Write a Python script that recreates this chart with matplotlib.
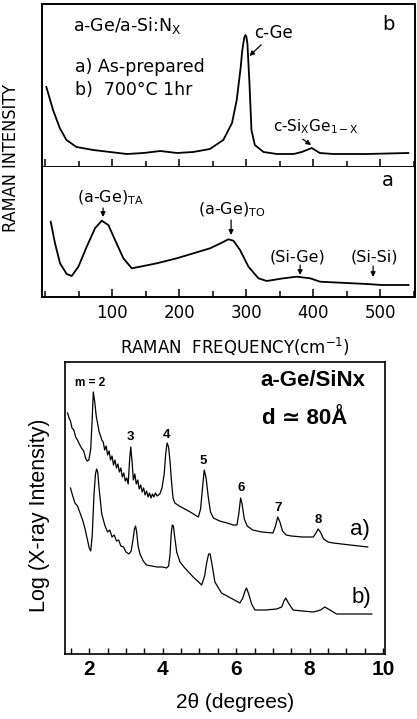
import numpy as np
import matplotlib.pyplot as plt
from matplotlib.ticker import MultipleLocator

# Raman, curve b (700C 1hr): frequency (cm-1), intensity (arb.)
raman_b_x = [2, 12, 22, 32, 47, 72, 97, 122, 147, 172, 197, 221, 246, 266, 279, 286,
             292, 294, 296, 297.5, 299, 300.5, 302, 305, 308, 313, 326, 346, 371, 383,
             398, 410, 430, 480, 542]
raman_b_y = [80, 57, 39, 27, 20, 17, 15, 13, 14, 16, 14, 15, 18, 27, 44, 67,
             100, 115, 124, 130, 132, 130, 123, 84, 37, 22, 15, 13, 13, 15,
             19, 14, 13, 13, 14]

# Raman, curve a (as-prepared)
raman_a_x = [8.5, 14.9, 22.4, 32.3, 39.8, 49.8, 62.2, 74.6, 84.6, 94.5, 104.5, 116.9,
             129.4, 141.8, 166.7, 196.5, 221.4, 246.3, 263.7, 273.6, 281.1, 291, 303.5,
             318.4, 330.8, 355.7, 375.6, 395.5, 410.4, 440.3, 480.1, 502.5, 542.3]
raman_a_y = [75.3, 53.7, 33.7, 23, 21, 30.3, 50.3, 68.7, 76.3, 72, 57, 38.7,
             28.7, 30.3, 33.7, 38.7, 43.7, 48.7, 54.3, 57.7, 56.3, 47, 30.3,
             18.7, 16, 18.7, 20.3, 18.7, 15.3, 14.3, 13, 12, 12]

# X-ray, curve a)
xray_a_x = [1.41, 1.45, 1.49, 1.53, 1.58, 1.63, 1.68, 1.73, 1.79, 1.85, 1.90, 1.94, 1.99,
            2.04, 2.08, 2.11, 2.15, 2.19, 2.23, 2.27, 2.31, 2.34, 2.38, 2.42, 2.46, 2.50,
            2.54, 2.58, 2.62, 2.66, 2.70, 2.74, 2.78, 2.82, 2.86, 2.90, 2.94, 2.98, 3.02,
            3.06, 3.10, 3.13, 3.17, 3.20, 3.24, 3.28, 3.32, 3.36, 3.40, 3.44, 3.48, 3.52,
            3.56, 3.60, 3.64, 3.68, 3.72, 3.76, 3.80, 3.85, 3.92, 3.98, 4.04, 4.08, 4.12,
            4.16, 4.20, 4.24, 4.28, 4.33, 4.45, 4.60, 4.75, 4.88, 4.97, 5.03, 5.08, 5.13,
            5.18, 5.24, 5.30, 5.38, 5.55, 5.75, 5.92, 6.02, 6.07, 6.12, 6.16, 6.22, 6.30,
            6.45, 6.70, 7.00, 7.07, 7.13, 7.19, 7.26, 7.36, 7.50, 7.80, 8.10, 8.17, 8.23,
            8.29, 8.38, 8.50, 8.64, 9.10, 9.58]
xray_a_y = [241, 236, 233, 226, 224, 217, 214, 210, 206, 203, 196, 193, 194,
            205, 235, 262, 252, 238, 230, 222, 218, 214, 212, 204, 208, 199,
            203, 194, 198, 189, 194, 186, 190, 182, 186, 177, 181, 173, 176,
            170, 195, 207, 190, 174, 180, 170, 174, 165, 169, 162, 166, 159,
            163, 157, 161, 156, 160, 157, 161, 158, 160, 166, 180, 200, 211,
            207, 192, 172, 156, 151, 148, 145, 142, 139, 137, 145, 165, 184,
            176, 157, 142, 136, 133, 131, 129, 129, 140, 156, 150, 135, 128,
            124, 122, 121, 128, 137, 132, 123, 119, 118, 117, 117, 121, 125,
            122, 115, 112, 111, 109, 107]

# X-ray, curve b)
xray_b_x = [1.49, 1.55, 1.61, 1.68, 1.75, 1.82, 1.88, 1.94, 2.00, 2.04, 2.08, 2.13, 2.17,
            2.20, 2.23, 2.27, 2.34, 2.43, 2.50, 2.56, 2.62, 2.68, 2.74, 2.80, 2.86, 2.93,
            3.00, 3.08, 3.14, 3.19, 3.23, 3.26, 3.29, 3.33, 3.38, 3.47, 3.56, 3.70, 3.85,
            4.00, 4.10, 4.16, 4.20, 4.23, 4.26, 4.29, 4.33, 4.38, 4.47, 4.60, 4.83, 5.06,
            5.14, 5.20, 5.25, 5.29, 5.34, 5.42, 5.60, 5.85, 6.10, 6.18, 6.24, 6.28, 6.34,
            6.42, 6.51, 6.80, 7.10, 7.24, 7.30, 7.35, 7.42, 7.55, 7.80, 8.10, 8.30, 8.41,
            8.55, 8.73, 9.20, 9.69]
xray_b_y = [166, 158, 151, 148, 141, 134, 126, 116, 106, 103, 118, 160, 180,
            185, 182, 165, 140, 128, 122, 124, 117, 119, 113, 114, 108, 107,
            102, 100, 103, 114, 125, 128, 122, 108, 100, 93, 89, 88, 87,
            87, 86, 88, 100, 120, 129, 128, 116, 102, 92, 86, 77, 69,
            78, 92, 100, 100, 90, 72, 61, 56, 51, 56, 63, 66, 60,
            50, 44, 44, 45, 47, 53, 56, 51, 44, 43, 42, 44, 47,
            44, 40, 40, 40]

raman_ticks = [100, 200, 300, 400, 500]
xray_ticks = [2, 4, 6, 8, 10]
peak_orders = ["3", "4", "5", "6", "7", "8"]
peak_pos = [(3.11, 217), (4.11, 219), (5.09, 193), (6.13, 166), (7.13, 146), (8.22, 134)]

W, H = 417, 719
fig = plt.figure(figsize=(W / 100, H / 100), dpi=100)
plt.rcParams['font.family'] = ['DejaVu Sans']

def box(x0, y0, x1, y1):
    # pixel box -> figure fraction
    return [x0 / W, 1 - y1 / H, (x1 - x0) / W, (y1 - y0) / H]

ax_b = fig.add_axes(box(42, 4, 415, 167))
ax_a = fig.add_axes(box(42, 167, 415, 297))
ax_x = fig.add_axes(box(65, 362, 385, 654))

arrow = dict(arrowstyle='-|>', color='black', lw=0.9, mutation_scale=7,
             shrinkA=0, shrinkB=0)

# ---- Raman panels
for ax in (ax_b, ax_a):
    ax.set_xlim(-4.5, 552)
    ax.set_yticks([])
    ax.xaxis.set_major_locator(MultipleLocator(100))
    ax.xaxis.set_minor_locator(MultipleLocator(50))
    ax.tick_params(axis='x', which='major', direction='in', length=6, width=1.1,
                   top=False, labelsize=12, pad=5)
    ax.tick_params(axis='x', which='minor', direction='in', length=4, width=1.1, top=False)
    for s in ax.spines.values():
        s.set_linewidth(1.4)

ax_b.set_ylim(0, 163)
ax_a.set_ylim(0, 130)
ax_b.tick_params(axis='x', labelbottom=False)
ax_a.set_xticks(raman_ticks)
ax_a.set_xticklabels([str(t) for t in raman_ticks])
ax_a.spines['top'].set_visible(False)

ax_b.plot(raman_b_x, raman_b_y, color='black', lw=1.3)
ax_a.plot(raman_a_x, raman_a_y, color='black', lw=1.3)

ax_b.text(42, 142, r"a-Ge/a-Si:N$_{\mathrm{X}}$", fontsize=12.5, va='center')
ax_b.text(45, 100, "a) As-prepared", fontsize=12.5, va='center')
ax_b.text(45, 77, "b)  700°C 1hr", fontsize=12.5, va='center')
ax_b.text(512, 142, "b", fontsize=14, va='center', ha='center')
ax_b.annotate("c-Ge", xy=(305, 111), xytext=(312, 134), fontsize=12, va='center',
              arrowprops=arrow)
ax_b.annotate(r"c-Si$_{\mathrm{X}}$Ge$_{\mathrm{1-X}}$", xy=(397, 22), xytext=(340, 40),
              fontsize=11, va='center', arrowprops=dict(arrow, relpos=(0.3, 0)))

ax_a.text(512, 117, "a", fontsize=14, va='center', ha='center')
lower_labels = [(r"(a-Ge)$_{\mathrm{TA}}$", 97, 90, 86.6, 80),
                (r"(a-Ge)$_{\mathrm{TO}}$", 278, 78, 277.6, 62),
                ("(Si-Ge)", 376, 33, 380.6, 22),
                ("(Si-Si)", 492, 32, 489.5, 20)]
for txt, tx, ty, px, py in lower_labels:
    ax_a.text(tx, ty, txt, fontsize=11.5, ha='center', va='bottom')
    ax_a.annotate("", xy=(px, py), xytext=(px, ty - 1), arrowprops=arrow)

fig.text(11 / W, 1 - 158 / H, "RAMAN INTENSITY", rotation=90, fontsize=13,
         fontstretch='condensed', ha='center', va='center')
fig.text(235 / W, 1 - 347 / H, "RAMAN  FREQUENCY(cm$^{-1}$)", fontsize=12,
         ha='center', va='center')

# ---- X-ray panel
xfont = ['Liberation Sans', 'DejaVu Sans']
ax_x.set_xlim(1.34, 10.05)
ax_x.set_ylim(0, 292)
ax_x.set_yticks([])
ax_x.set_xticks(xray_ticks)
ax_x.xaxis.set_minor_locator(MultipleLocator(0.5))
ax_x.tick_params(axis='x', which='both', direction='in', length=4, width=1.0, top=False,
                 labelsize=15, pad=4)
for lab in ax_x.get_xticklabels():
    lab.set_family(xfont)
    lab.set_fontweight('bold')
for s in ax_x.spines.values():
    s.set_linewidth(1.2)

ax_x.plot(xray_a_x, xray_a_y, color='black', lw=0.9)
ax_x.plot(xray_b_x, xray_b_y, color='black', lw=0.9)

ax_x.text(2.02, 271, "m = 2", fontsize=8.5, ha='center', va='center', family=xfont,
          fontweight='bold')
for lab, (px, py) in zip(peak_orders, peak_pos):
    ax_x.text(px, py, lab, fontsize=9.5, ha='center', va='center', family=xfont,
              fontweight='bold')
ax_x.text(9.37, 124, "a)", fontsize=16, ha='center', va='center', family=xfont)
ax_x.text(9.42, 56, "b)", fontsize=16, ha='center', va='center', family=xfont)
ax_x.text(8.09, 274, "a-Ge/SiNx", fontsize=16, ha='center', va='center', family=xfont,
          fontweight='bold')
ax_x.text(7.87, 236, "d ≃ 80Å", fontsize=16, ha='center', va='center', family=xfont,
          fontweight='bold')

fig.text(40 / W, 1 - 515 / H, "Log (X-ray Intensity)", rotation=90, fontsize=15.5,
         ha='center', va='center', family=xfont)
fig.text(235 / W, 1 - 703 / H, "2θ (degrees)", fontsize=15, ha='center', va='center',
         family=xfont)

fig.savefig("out.png", dpi=100)
